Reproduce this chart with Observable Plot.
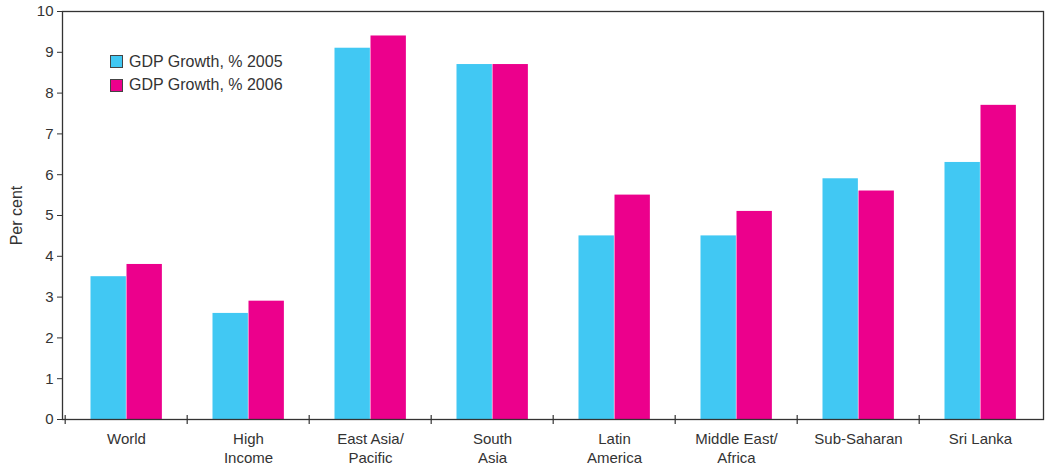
<!DOCTYPE html>
<html>
<head>
<meta charset="utf-8">
<script src="https://cdn.jsdelivr.net/npm/d3@7"></script>
<script src="https://cdn.jsdelivr.net/npm/@observablehq/plot@0.6"></script>
<style>
  html, body { margin: 0; padding: 0; background: #fff; }
  #wrap { position: relative; width: 1047px; height: 467px; font-family: "Liberation Sans", Arial, sans-serif; }
  #legend { position: absolute; left: 110px; top: 50px; font-size: 16px; color: #333; }
  .item { display: flex; align-items: center; height: 23.5px; }
  .sw { width: 11px; height: 11px; border: 1.5px solid #444; margin-right: 6px; }
</style>
</head>
<body>
<div id="wrap"><div id="legend"></div></div>
<script>
const regions = ["World", "High Income", "East Asia/Pacific", "South Asia", "Latin America", "Middle East/Africa", "Sub-Saharan", "Sri Lanka"];
const tickLabels = ["World", "High\nIncome", "East Asia/\nPacific", "South\nAsia", "Latin\nAmerica", "Middle East/\nAfrica", "Sub-Saharan", "Sri Lanka"];
const growth2005 = [3.5, 2.6, 9.1, 8.7, 4.5, 4.5, 5.9, 6.3];
const growth2006 = [3.8, 2.9, 9.4, 8.7, 5.5, 5.1, 5.6, 7.7];
const seriesNames = ["GDP Growth, % 2005", "GDP Growth, % 2006"];
const seriesColors = ["#41C8F3", "#EC008C"];
const yTicks = [0, 1, 2, 3, 4, 5, 6, 7, 8, 9, 10];

const d2005 = regions.map((r, i) => ({region: r, value: growth2005[i]}));
const d2006 = regions.map((r, i) => ({region: r, value: growth2006[i]}));
const labelOf = new Map(regions.map((r, i) => [r, tickLabels[i]]));

const W = 1047, ML = 62, MR = 4;
const bw = (W - ML - MR) / regions.length;

const chart = Plot.plot({
  width: W,
  height: 467,
  marginLeft: ML,
  marginRight: MR,
  marginTop: 11,
  marginBottom: 48,
  style: {fontFamily: "'Liberation Sans', Arial, sans-serif", fontSize: "15px", color: "#333", background: "#fff"},
  x: {type: "band", domain: regions, padding: 0},
  y: {domain: [0, 10]},
  marks: [
    Plot.barY(d2005, {x: "region", y: "value", fill: seriesColors[0], insetLeft: 25.5, insetRight: bw - 61.5}),
    Plot.barY(d2006, {x: "region", y: "value", fill: seriesColors[1], insetLeft: 61.5, insetRight: bw - 97.5}),
    Plot.ruleX(regions, {x: d => d, y1: -0.12, y2: 0.1, dx: -bw / 2, stroke: "#333", strokeWidth: 1.2}),
    Plot.axisX({tickSize: 0, tickPadding: 11, tickFormat: d => labelOf.get(d), lineHeight: 1.25, fontSize: 15, label: null, fill: "#333"}),
    Plot.axisY({ticks: yTicks, tickSize: 5, tickPadding: 4, fontSize: 15, label: null, fill: "#333", stroke: "#333"}),
    Plot.axisY({ticks: [], tickSize: 0, fontSize: 16, label: "Per cent", labelAnchor: "center", labelArrow: "none", labelOffset: 52, fill: "#333"}),
    Plot.frame({stroke: "#333", strokeWidth: 1.3})
  ]
});
document.getElementById("wrap").prepend(chart);

const legend = document.getElementById("legend");
seriesNames.forEach((name, i) => {
  const item = document.createElement("div");
  item.className = "item";
  const sw = document.createElement("span");
  sw.className = "sw";
  sw.style.background = seriesColors[i];
  const t = document.createElement("span");
  t.textContent = name;
  item.append(sw, t);
  legend.append(item);
});
</script>
</body>
</html>
